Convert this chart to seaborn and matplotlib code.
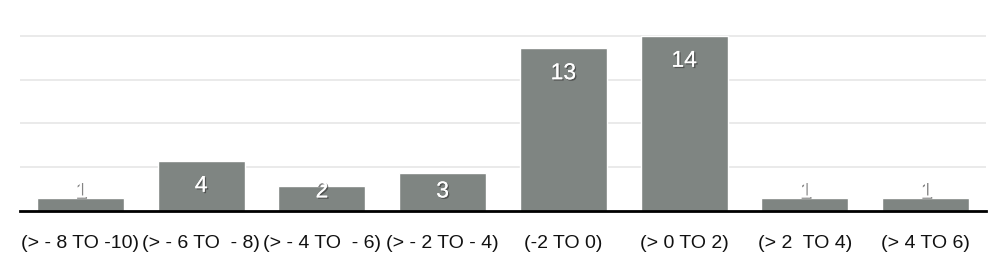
import matplotlib
matplotlib.use("Agg")
import matplotlib.pyplot as plt
import matplotlib.patheffects as pe
import seaborn as sns
import pandas as pd

categories = ["(> - 8 TO -10)", "(> - 6 TO  - 8)", "(> - 4 TO  - 6)", "(> - 2 TO - 4)",
              "(-2 TO 0)", "(> 0 TO 2)", "(> 2  TO 4)", "(> 4 TO 6)"]
counts = [1, 4, 2, 3, 13, 14, 1, 1]

sns.set_theme(style="white")
plt.rcParams['font.family'] = ['Liberation Sans', 'DejaVu Sans']

df = pd.DataFrame({"cat": categories, "n": counts})
fig = plt.figure(figsize=(10, 2.55), dpi=100)
ax = fig.add_axes([0.02, 0.169, 0.966, 0.689])
sns.barplot(data=df, x="cat", y="n", color="#7f8582", saturation=1, width=0.72, ax=ax)

ax.set_xlim(-0.5, len(categories) - 0.5)
ax.set_ylim(0, 14.05)
ax.set_yticks([3.5, 7, 10.5, 14])
ax.yaxis.grid(True, color="#e6e6e6", linewidth=1.2)
ax.set_axisbelow(True)
ax.tick_params(axis="y", left=False, labelleft=False)
ax.tick_params(axis="x", bottom=False, pad=10.5, labelsize=14, colors="#111111")
ax.set_xlabel("")
ax.set_ylabel("")
for s in ["top", "right", "left"]:
    ax.spines[s].set_visible(False)
ax.spines["bottom"].set_color("black")
ax.spines["bottom"].set_linewidth(2)

for i, v in enumerate(counts):
    y = max(v - 1.95, 1.6)
    ax.text(i, y, str(v), ha="center", va="center", color="white", fontsize=16.5,
            path_effects=[pe.withSimplePatchShadow(offset=(1, -1), shadow_rgbFace="#333333", alpha=0.6), pe.Normal()])

fig.savefig("out.png", dpi=100)
